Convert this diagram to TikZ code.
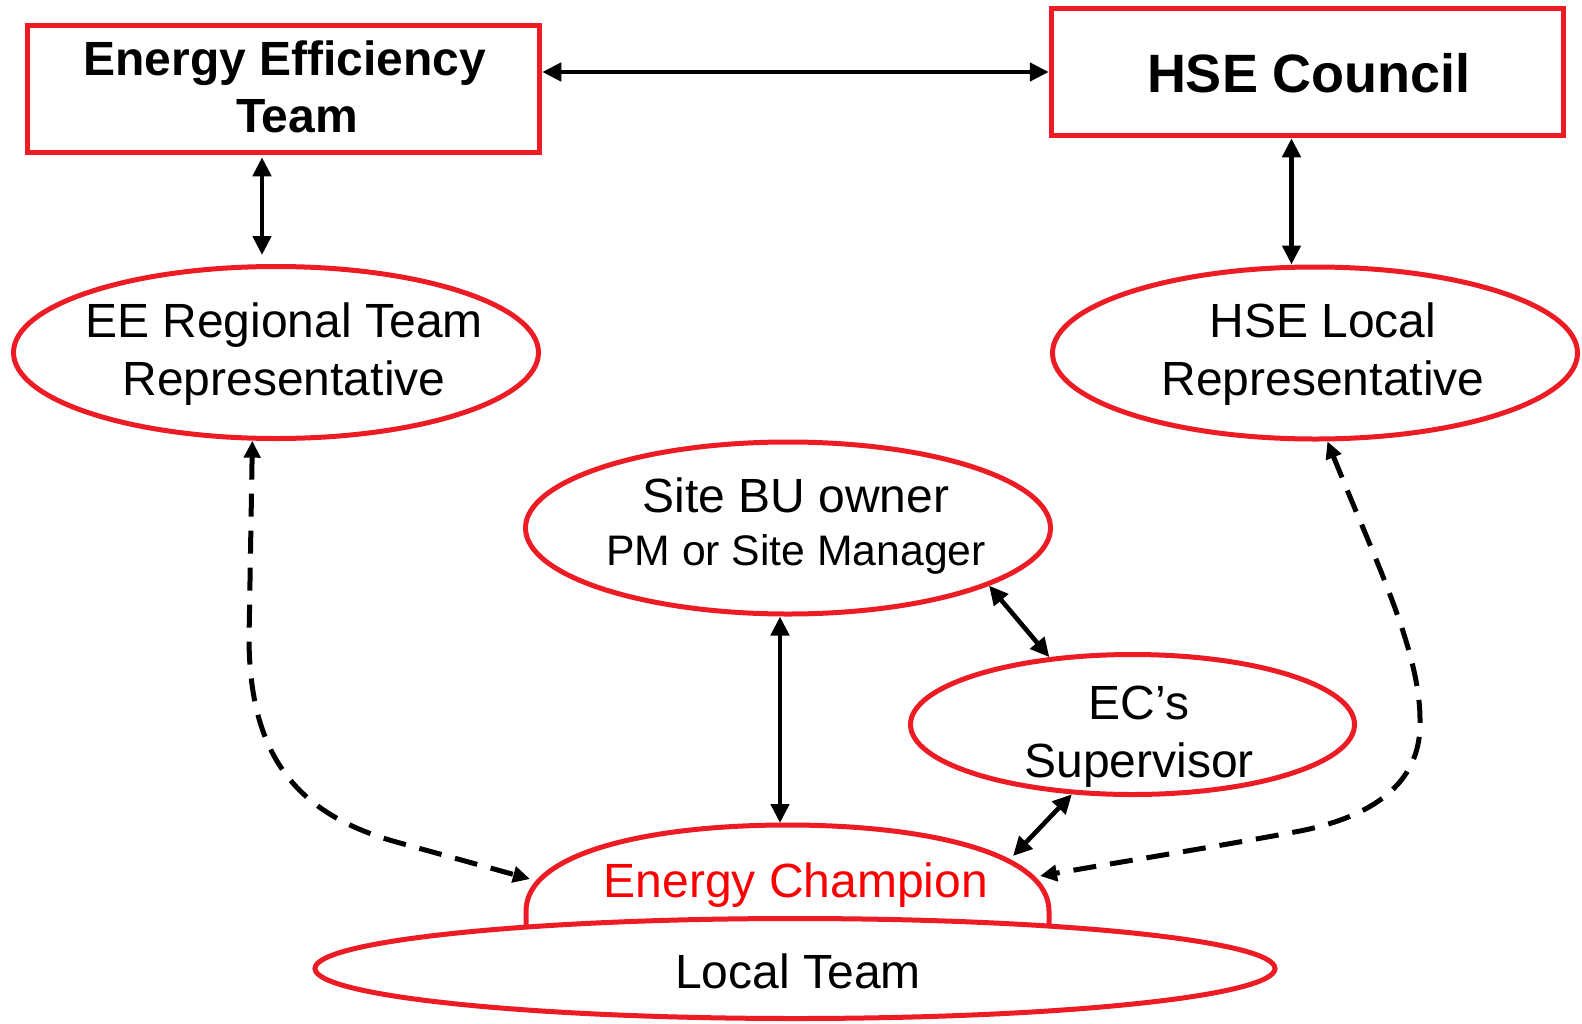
\documentclass[tikz,border=0pt]{standalone}
\usepackage{fontspec}
\setmainfont{Liberation Sans}
\usetikzlibrary{shapes.geometric,arrows.meta}
\definecolor{eered}{RGB}{237,28,36}
\definecolor{champred}{RGB}{250,0,0}
\begin{document}
\begin{tikzpicture}[x=1pt,y=-1pt,
  box/.style={draw=eered, line width=5.5pt, minimum width=512pt, minimum height=127pt, inner sep=0pt},
  oval/.style={ellipse, draw=eered, line width=5pt, inner sep=0pt, minimum width=525pt, minimum height=172pt},
  txt/.style={font=\fontsize{48}{58}\selectfont, align=center, inner sep=0pt},
  conn/.style={line width=4.6pt, {Triangle[length=19pt,width=18pt]}-{Triangle[length=19pt,width=18pt]}},
  dconn/.style={line width=5pt, dash pattern=on 23pt off 14pt, {Triangle[length=17pt,width=16pt]}-{Triangle[length=17pt,width=16pt]}}
]
\useasboundingbox (0,0) rectangle (1582,1023);

% shapes
\node[box] (ee) at (283.5,89) {};
\node[box] (hse) at (1307.5,72) {};
\node[oval] (eer) at (276,352.5) {};
\node[oval] (hsel) at (1315,353) {};
\node[oval] (site) at (788,528) {};
\node[oval, minimum width=444pt, minimum height=140pt] (sup) at (1132.5,724.5) {};

% Energy Champion dome
\draw[draw=eered, line width=5pt, fill=white]
  (526,945) -- (526,911) .. controls (526,853) and (648,825) .. (787.5,825)
  .. controls (927,825) and (1049,853) .. (1049,911) -- (1049,945);
\node[oval, fill=white, minimum width=960pt, minimum height=100pt] (local) at (795,968.5) {};

\coordinate (champN) at (780,823);
\coordinate (champNE) at (1013,856);
\coordinate (champE) at (1040,876);
\coordinate (champW) at (530,879);

% texts
\node[txt, font=\fontsize{48}{57}\selectfont\bfseries] (eeT) at (285,87) {Energy Efficiency\\\hspace*{24pt}Team};
\node[txt, font=\fontsize{54}{60}\selectfont\bfseries] (hseT) at (1309,73.6) {HSE Council};
\node[txt] (eerT) at (284,354.5) {EE Regional Team\\Representative};
\node[txt] (hselT) at (1323,354.5) {HSE Local\\Representative};
\node[txt, font=\fontsize{48}{53}\selectfont] (siteT) at (796,526.4) {Site BU owner\\{\fontsize{42.7}{53}\selectfont PM or Site Manager}};
\node[txt] (supT) at (1139,736.5) {EC’s\\Supervisor};
\node[txt, text=champred] (champT) at (796,885.5) {Energy Champion};
\node[txt] (localT) at (798,971.5) {Local Team};

% connectors
\draw[conn] (ee.east |- hse.west) -- (hse.west);
\draw[conn] ([xshift=-21.5pt,yshift=-2pt]ee.south) -- ([xshift=-21.5pt,yshift=9pt]ee.south |- eer.north);
\draw[conn] ([xshift=-16pt]hse.south) -- ([xshift=-16pt]hse.south |- hsel.north);
\draw[conn] ([xshift=-8pt]site.south) -- (champN);
\draw[conn] (site.344) -- (sup.141);
\draw[conn] (sup.229) -- (champNE);

\draw[dconn] (eer.255) -- (249,640) .. controls (250,760) and (300,816) .. (400,843) -- (champW);
\draw[dconn] (hsel.278) .. controls (1375,560) and (1420,650) .. (1420,720)
  .. controls (1422,785) and (1370,817) .. (1300,831)
  .. controls (1220,846) and (1120,862) .. (champE);
\end{tikzpicture}
\end{document}
